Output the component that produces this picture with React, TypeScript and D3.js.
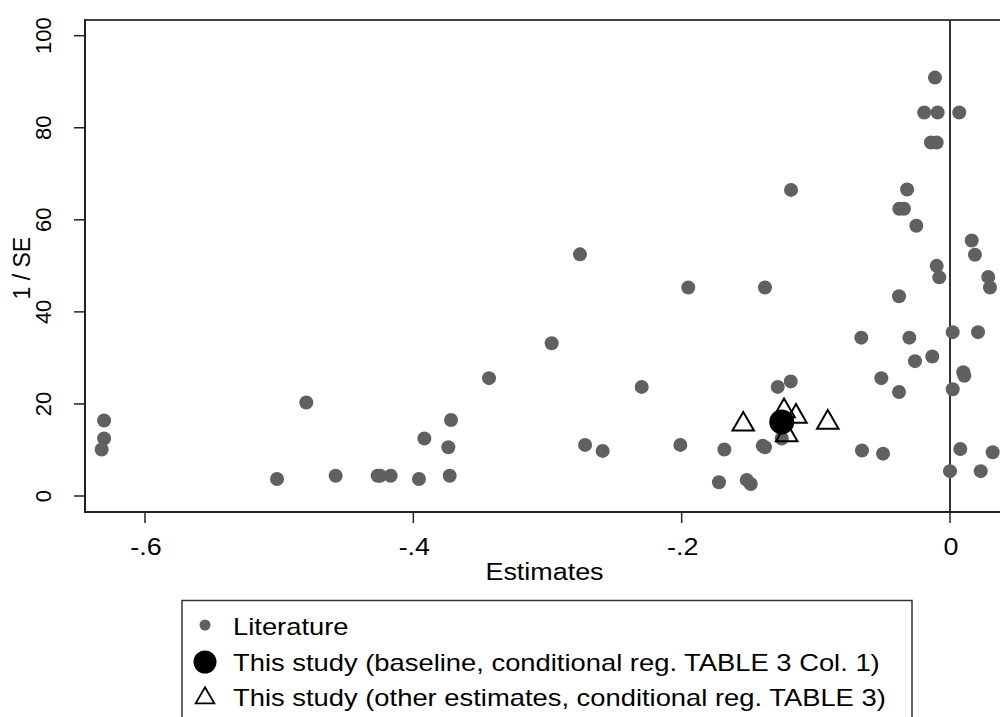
import React from "react";
import * as d3 from "d3";

// Literature estimates: [estimate, 1/SE]
const literatureX = [
  -0.6323, -0.6305, -0.6305, -0.4798, -0.5016, -0.4579, -0.4266, -0.4248, -0.4169, -0.3958,
  -0.3918, -0.3739, -0.3719, -0.3729, -0.3436, -0.2969, -0.2758, -0.272, -0.2589, -0.2298,
  -0.201, -0.1951, -0.1722, -0.1682, -0.1515, -0.1485, -0.1396, -0.1379, -0.1379, -0.1284,
  -0.1187, -0.1254, -0.1185, -0.0656, -0.0499, -0.0661, -0.0512, -0.038, -0.038, -0.0303,
  -0.0261, -0.0132, -0.0378, -0.0343, -0.032, -0.0251, -0.0192, -0.0092, 0.0069, -0.0112,
  -0.0142, -0.0099, -0.0099, -0.008, 0.002, 0.0209, 0.0099, 0.0107, 0.002, 0.0077,
  0.0318, 0.0, 0.0229, 0.0162, 0.0186, 0.0285, 0.0298,
];
const literatureY = [
  10.1, 12.5, 16.4, 20.3, 3.7, 4.4, 4.4, 4.4, 4.4, 3.7,
  12.5, 10.6, 16.5, 4.4, 25.6, 33.2, 52.5, 11.1, 9.8, 23.7,
  11.1, 45.3, 3.0, 10.1, 3.5, 2.6, 10.9, 10.6, 45.3, 23.7,
  24.9, 12.5, 66.5, 9.9, 9.2, 34.4, 25.6, 22.6, 43.4, 34.4,
  29.3, 30.3, 62.4, 62.4, 66.6, 58.7, 83.3, 83.3, 83.3, 90.9,
  76.8, 76.8, 50.0, 47.5, 35.6, 35.6, 26.9, 26.1, 23.2, 10.2,
  9.5, 5.4, 5.4, 55.5, 52.4, 47.6, 45.3,
];

const baselineX = [-0.1254];
const baselineY = [16.1];

const otherX = [-0.1541, -0.0911, -0.1237, -0.1148, -0.1217];
const otherY = [16.0, 16.4, 18.9, 17.7, 13.7];

const xTicks = [-0.6, -0.4, -0.2, 0];
const xTickLabels = ["-.6", "-.4", "-.2", "0"];
const yTicks = [0, 20, 40, 60, 80, 100];
const yTickLabels = ["0", "20", "40", "60", "80", "100"];

const legendLabels = [
  "Literature",
  "This study (baseline, conditional reg. TABLE 3 Col. 1)",
  "This study (other estimates, conditional reg. TABLE 3)",
];

const W = 1000;
const H = 717;
const FONT = "'Liberation Sans', Arial, Helvetica, sans-serif";
const SX = 1.17;
const SXL = 1.19;

export default function App() {
  const x = d3.scaleLinear().domain([-0.6, 0]).range([145, 950]);
  const y = d3.scaleLinear().domain([0, 100]).range([496, 35.7]);
  const left = 85;
  const right = 1005;
  const top = 20;
  const bottom = 512;

  const tri = d3.symbol().type(d3.symbolTriangle).size(200);

  return (
    <svg
      width={W}
      height={H}
      style={{ position: "absolute", left: 0, top: 0, background: "#fff" }}
      fontFamily={FONT}
    >
      <rect x={0} y={0} width={W} height={H} fill="#fff" />
      {/* frame top */}
      <line x1={left} x2={right} y1={top} y2={top} stroke="#444" strokeWidth={2} />
      {/* zero line */}
      <line x1={x(0)} x2={x(0)} y1={top} y2={bottom} stroke="#333" strokeWidth={2} />

      {/* literature */}
      {literatureX.map((v, i) => (
        <circle key={"l" + i} cx={x(v)} cy={y(literatureY[i])} r={7} fill="#606060" />
      ))}
      {/* other estimates triangles */}
      {otherX.map((v, i) => (
        <path
          key={"t" + i}
          d={tri() as string}
          transform={`translate(${x(v)},${y(otherY[i]) + 2})`}
          fill="none"
          stroke="#000"
          strokeWidth={2}
        />
      ))}
      {/* baseline */}
      {baselineX.map((v, i) => (
        <circle key={"b" + i} cx={x(v)} cy={y(baselineY[i])} r={12.5} fill="#000" />
      ))}

      {/* axes */}
      <line x1={left} x2={left} y1={top - 1} y2={bottom + 1} stroke="#222" strokeWidth={2} />
      <line x1={left - 1} x2={right} y1={bottom} y2={bottom} stroke="#222" strokeWidth={2} />

      {yTicks.map((t, i) => (
        <g key={"yt" + i}>
          <line x1={left - 11} x2={left} y1={y(t)} y2={y(t)} stroke="#222" strokeWidth={1.5} />
          <text
            transform={`translate(${left - 42},${y(t)}) rotate(-90)`}
            textAnchor="middle"
            dominantBaseline="central"
            fontSize={22}
            fill="#000"
          >
            {yTickLabels[i]}
          </text>
        </g>
      ))}
      {xTicks.map((t, i) => (
        <g key={"xt" + i}>
          <line x1={x(t)} x2={x(t)} y1={bottom} y2={bottom + 11} stroke="#222" strokeWidth={1.5} />
          <text
            transform={`translate(${x(t) + 1},${bottom + 35}) scale(${SX},1)`}
            textAnchor="middle"
            dominantBaseline="central"
            fontSize={23}
            fill="#000"
          >
            {xTickLabels[i]}
          </text>
        </g>
      ))}

      <text
        transform={`translate(${x(-0.3) - 3},572) scale(${SX},1)`}
        textAnchor="middle"
        dominantBaseline="central"
        fontSize={23}
        fill="#000"
      >
        Estimates
      </text>
      <text
        transform={`translate(22,${y(49.5)}) rotate(-90)`}
        textAnchor="middle"
        dominantBaseline="central"
        fontSize={23}
        fill="#000"
      >
        1 / SE
      </text>

      {/* legend */}
      <rect x={182} y={600.5} width={730} height={130} fill="#fff" stroke="#333" strokeWidth={1.5} />
      <circle cx={205} cy={625} r={5.5} fill="#606060" />
      <circle cx={205} cy={662} r={11.5} fill="#000" />
      <path
        d={d3.symbol().type(d3.symbolTriangle).size(150)() as string}
        transform={`translate(205,698)`}
        fill="none"
        stroke="#000"
        strokeWidth={1.8}
      />
      {legendLabels.map((s, i) => (
        <text
          key={"lg" + i}
          transform={`translate(233,${627 + i * 35.5}) scale(${SXL},1)`}
          dominantBaseline="central"
          fontSize={23}
          fill="#000"
        >
          {s}
        </text>
      ))}
    </svg>
  );
}
